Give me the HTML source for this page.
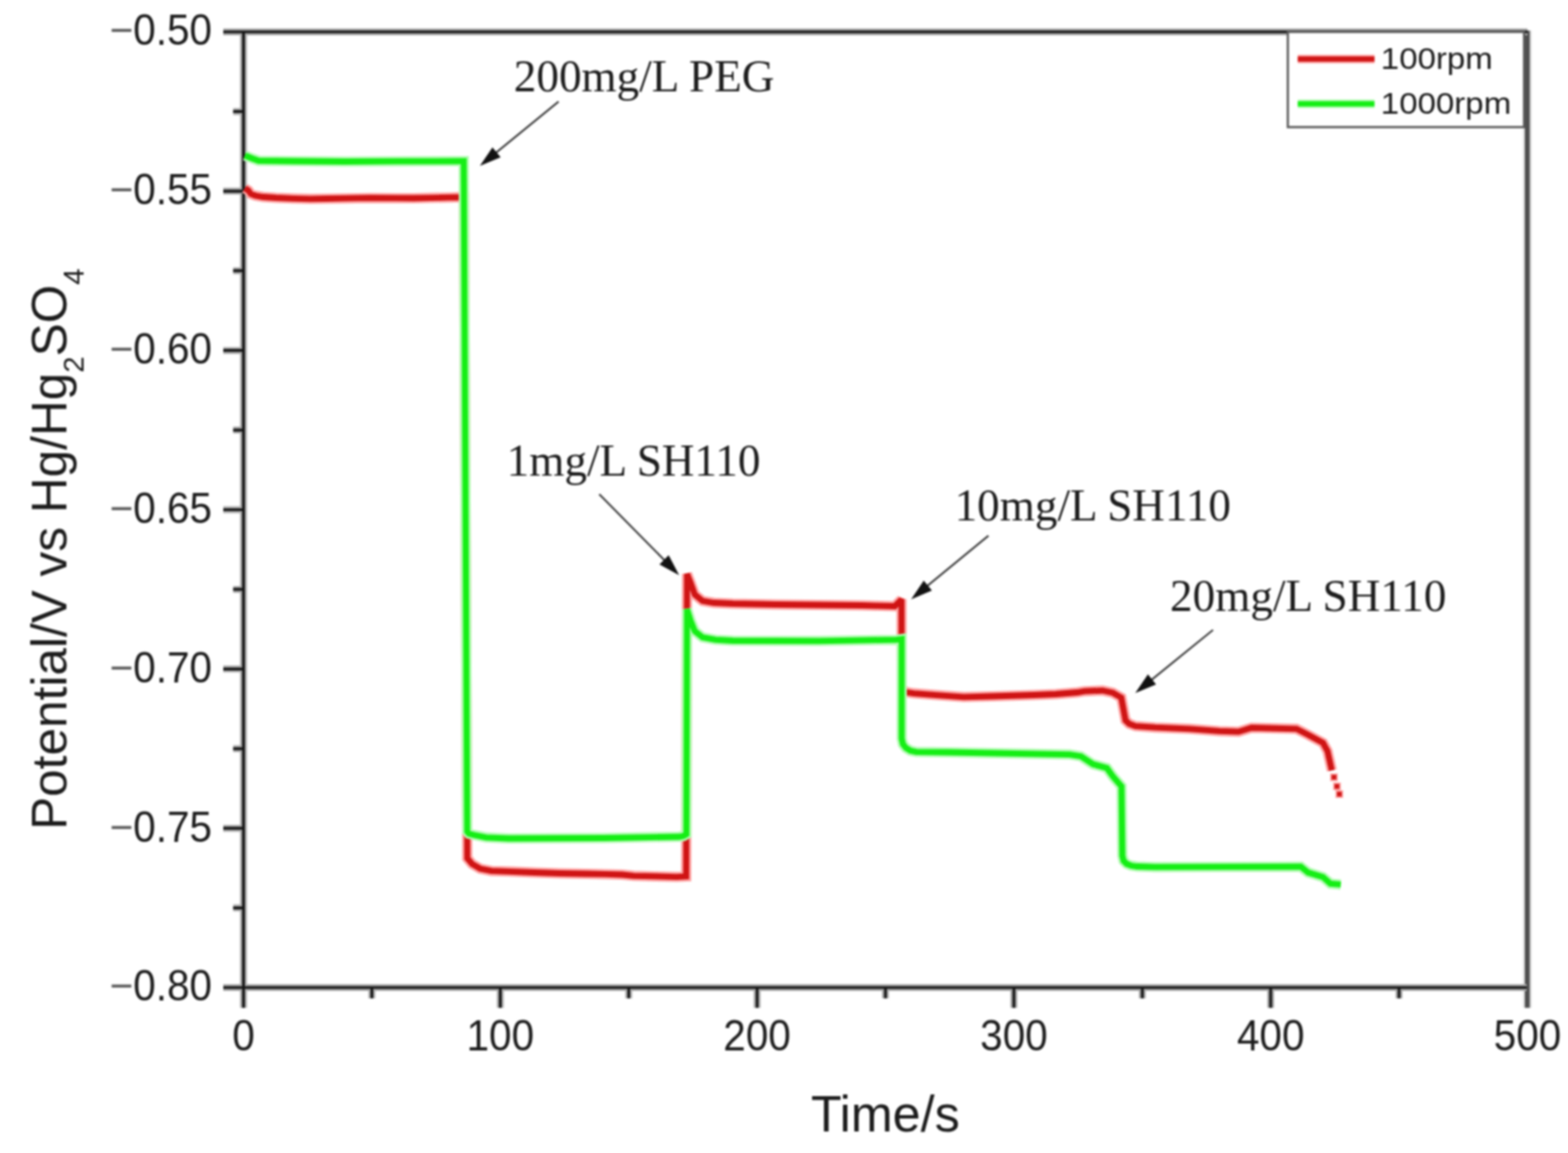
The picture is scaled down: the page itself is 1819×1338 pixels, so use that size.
<!DOCTYPE html>
<html>
<head>
<meta charset="utf-8">
<title>Potential vs Time</title>
<style>
html,body{margin:0;padding:0;background:#fff;}
body{width:1819px;height:1338px;overflow:hidden;}
#wrap{width:1819px;height:1338px;filter:blur(1px);}
svg{display:block;}
.sans{font-family:"Liberation Sans",Arial,sans-serif;}
.serif{font-family:"Liberation Serif","Times New Roman",serif;}
</style>
</head>
<body><div id="wrap">
<svg id="chart" width="1819" height="1338" viewBox="0 0 1819 1338">
<rect x="0" y="0" width="1819" height="1338" fill="#fff"/>

<!-- axes frame and ticks -->
<g fill="none" stroke-linecap="butt">
  <path d="M1771.8,35.5 V1169.5" stroke="#dcdcdc" stroke-width="10"/>
  <path d="M1771.8,35.5 V1169.5" stroke="#4e4e4e" stroke-width="5.6"/>
  <path d="M259,37 H1772 M282.5,35.5 V1147.5 M259,1146 H1771 M259,221.8 H282.5 M259,406.7 H282.5 M259,591.5 H282.5 M259,776.3 H282.5 M259,961.2 H282.5 M270.5,129.4 H282.5 M270.5,314.2 H282.5 M270.5,499.1 H282.5 M270.5,683.9 H282.5 M270.5,868.8 H282.5 M270.5,1053.6 H282.5 M580.4,1146 V1169.5 M878.3,1146 V1169.5 M1176.2,1146 V1169.5 M1474.1,1146 V1169.5 M282.5,1146 V1169.5 M431.4,1146 V1158.5 M729.4,1146 V1158.5 M1027.2,1146 V1158.5 M1325.2,1146 V1158.5 M1623.0,1146 V1158.5" stroke="#ababab" stroke-width="8"/>
  <path d="M259,37 H1772 M282.5,35.5 V1147.5 M259,1146 H1771 M259,221.8 H282.5 M259,406.7 H282.5 M259,591.5 H282.5 M259,776.3 H282.5 M259,961.2 H282.5 M270.5,129.4 H282.5 M270.5,314.2 H282.5 M270.5,499.1 H282.5 M270.5,683.9 H282.5 M270.5,868.8 H282.5 M270.5,1053.6 H282.5 M580.4,1146 V1169.5 M878.3,1146 V1169.5 M1176.2,1146 V1169.5 M1474.1,1146 V1169.5 M282.5,1146 V1169.5 M431.4,1146 V1158.5 M729.4,1146 V1158.5 M1027.2,1146 V1158.5 M1325.2,1146 V1158.5 M1623.0,1146 V1158.5" stroke="#151515" stroke-width="3.2"/>
</g>

<!-- y tick labels -->
<g class="sans" font-size="47" fill="#1c1c1c" text-anchor="end">
  <text transform="translate(246,52.3) scale(1,1.06)"><tspan fill="#5e5e5e">−</tspan>0.50</text>
  <text transform="translate(246,237.1) scale(1,1.06)"><tspan fill="#5e5e5e">−</tspan>0.55</text>
  <text transform="translate(246,422.0) scale(1,1.06)"><tspan fill="#5e5e5e">−</tspan>0.60</text>
  <text transform="translate(246,606.8) scale(1,1.06)"><tspan fill="#5e5e5e">−</tspan>0.65</text>
  <text transform="translate(246,791.6) scale(1,1.06)"><tspan fill="#5e5e5e">−</tspan>0.70</text>
  <text transform="translate(246,976.5) scale(1,1.06)"><tspan fill="#5e5e5e">−</tspan>0.75</text>
  <text transform="translate(246,1161.3) scale(1,1.06)"><tspan fill="#5e5e5e">−</tspan>0.80</text>
</g>
<!-- x tick labels -->
<g class="sans" font-size="47" fill="#1c1c1c" text-anchor="middle">
  <text transform="translate(282.5,1218.5) scale(1,1.06)">0</text>
  <text transform="translate(580.4,1218.5) scale(1,1.06)">100</text>
  <text transform="translate(878.3,1218.5) scale(1,1.06)">200</text>
  <text transform="translate(1176.2,1218.5) scale(1,1.06)">300</text>
  <text transform="translate(1474.1,1218.5) scale(1,1.06)">400</text>
  <text transform="translate(1772.0,1218.5) scale(1,1.06)">500</text>
</g>

<!-- axis titles -->
<text class="sans" font-size="58.3" fill="#1c1c1c" x="1027" y="1312.7" text-anchor="middle">Time/s</text>
<text class="sans" font-size="57.5" fill="#1c1c1c" transform="translate(76.5,963) rotate(-90)">Potential/V vs Hg/Hg<tspan font-size="34" dy="20.5">2</tspan><tspan dy="-20.5">SO</tspan><tspan font-size="34" dy="20.5">4</tspan></text>

<!-- data curves -->
<g fill="none" stroke-linejoin="miter" stroke-miterlimit="2" stroke-linecap="butt">
  <path d="M284,218.5 L288,221 L291,225 L296,227 L305,228.5 L320,229.5 L340,230.3 L360,230.8 L380,230.5 L400,230.2 L430,229.7 L460,229.9 L480,230 L500,229.6 L520,229.2 L534,228.8 L538.2,229 L542.1,996 L547.7,1002.6 L557,1008 L570,1010.7 L590,1011.3 L620,1012.5 L650,1013.5 L680,1014 L702,1014.4 L722,1015 L735,1016.3 L760,1016.9 L785,1017.6 L796,1017 L797,666 L801,676 L806,690 L815,697.4 L828,699.5 L850,700.5 L900,701.5 L950,702 L1000,702.5 L1038,703.5 L1045.8,695.6 L1046,798 L1050,803 L1060,804.6 L1086,806.6 L1118,808.8 L1150,808 L1200,806.5 L1225,805.5 L1250,803.5 L1258,802.2 L1279,801.3 L1291,804 L1300.8,809.6 L1305.7,836 L1310,840 L1317.3,842.6 L1340,844.2 L1380,845.8 L1414.4,848.4 L1436.7,849.2 L1452,844.5 L1504,845.8 L1517.6,852.7 L1534.8,862.1 L1540,871.6 L1545,894" stroke="#ffa4a4" stroke-width="12.0"/>
  <path d="M284,218.5 L288,221 L291,225 L296,227 L305,228.5 L320,229.5 L340,230.3 L360,230.8 L380,230.5 L400,230.2 L430,229.7 L460,229.9 L480,230 L500,229.6 L520,229.2 L534,228.8 L538.2,229 L542.1,996 L547.7,1002.6 L557,1008 L570,1010.7 L590,1011.3 L620,1012.5 L650,1013.5 L680,1014 L702,1014.4 L722,1015 L735,1016.3 L760,1016.9 L785,1017.6 L796,1017 L797,666 L801,676 L806,690 L815,697.4 L828,699.5 L850,700.5 L900,701.5 L950,702 L1000,702.5 L1038,703.5 L1045.8,695.6 L1046,798 L1050,803 L1060,804.6 L1086,806.6 L1118,808.8 L1150,808 L1200,806.5 L1225,805.5 L1250,803.5 L1258,802.2 L1279,801.3 L1291,804 L1300.8,809.6 L1305.7,836 L1310,840 L1317.3,842.6 L1340,844.2 L1380,845.8 L1414.4,848.4 L1436.7,849.2 L1452,844.5 L1504,845.8 L1517.6,852.7 L1534.8,862.1 L1540,871.6 L1545,894" stroke="#cf1414" stroke-width="6.8"/>
</g>
<g stroke="none">
  <rect x="1543.0" y="897.5" width="9" height="9" fill="#ffa4a4"/><rect x="1546.5" y="908.0" width="9" height="9" fill="#ffa4a4"/><rect x="1549.2" y="917.0" width="9" height="9" fill="#ffa4a4"/>
  <rect x="1544.8" y="899.2" width="5.5" height="5.5" fill="#cf1414"/><rect x="1548.2" y="909.8" width="5.5" height="5.5" fill="#cf1414"/><rect x="1551.0" y="918.8" width="5.5" height="5.5" fill="#cf1414"/>
</g>
<g fill="none" stroke-linejoin="miter" stroke-miterlimit="2" stroke-linecap="butt">
  <path d="M284,180.5 L288,182 L293,184 L300,186.5 L340,187 L400,187.5 L460,187.2 L538,187 L542,965 L544,967.5 L550,969 L564,971.8 L590,973 L700,972.5 L788,971 L793,970 L796.3,968 L797,707 L801,720 L806,732.4 L815,739.6 L830,742.4 L850,743.5 L950,743.8 L1040,742.4 L1046,741.6 L1046,857 L1047.5,863.5 L1051,868 L1056,871 L1063,872.6 L1100,873 L1241,875.6 L1254,877.7 L1268,886.9 L1284,891.2 L1291,901 L1301,912.5 L1302,993 L1303.5,999 L1307,1002.5 L1312,1004.5 L1319,1005.5 L1340,1006.2 L1509,1005.7 L1517.6,1012.6 L1534.8,1017.8 L1543.4,1025.5 L1555.4,1026.4" stroke="#b2fbb2" stroke-width="12.0"/>
  <path d="M284,180.5 L288,182 L293,184 L300,186.5 L340,187 L400,187.5 L460,187.2 L538,187 L542,965 L544,967.5 L550,969 L564,971.8 L590,973 L700,972.5 L788,971 L793,970 L796.3,968 L797,707 L801,720 L806,732.4 L815,739.6 L830,742.4 L850,743.5 L950,743.8 L1040,742.4 L1046,741.6 L1046,857 L1047.5,863.5 L1051,868 L1056,871 L1063,872.6 L1100,873 L1241,875.6 L1254,877.7 L1268,886.9 L1284,891.2 L1291,901 L1301,912.5 L1302,993 L1303.5,999 L1307,1002.5 L1312,1004.5 L1319,1005.5 L1340,1006.2 L1509,1005.7 L1517.6,1012.6 L1534.8,1017.8 L1543.4,1025.5 L1555.4,1026.4" stroke="#15ee15" stroke-width="6.8"/>
</g>

<!-- legend -->
<rect x="1494" y="37" width="274" height="110.5" fill="#fff" stroke="#5a5a5a" stroke-width="2.6"/>
<line x1="1505.5" y1="68.6" x2="1594.5" y2="68.6" stroke="#ffa4a4" stroke-width="10"/>
<line x1="1505.5" y1="68.6" x2="1594.5" y2="68.6" stroke="#cf1414" stroke-width="6"/>
<line x1="1505.5" y1="120.5" x2="1594.5" y2="120.5" stroke="#b2fbb2" stroke-width="10"/>
<line x1="1505.5" y1="120.5" x2="1594.5" y2="120.5" stroke="#15ee15" stroke-width="6"/>
<g class="sans" font-size="36" fill="#1c1c1c" transform="translate(1604.4,0) scale(1.065,1) translate(-1604.4,0)">
  <text x="1602" y="80.5">100rpm</text>
  <text x="1602" y="132.5">1000rpm</text>
</g>

<!-- annotations -->
<g class="serif" font-size="52.4" fill="#1c1c1c">
  <text x="596" y="106.4">200mg/L PEG</text>
  <text x="587.8" y="551.7">1mg/L SH110</text>
  <text x="1107.4" y="604.1">10mg/L SH110</text>
  <text x="1357.3" y="708.5">20mg/L SH110</text>
</g>
<g stroke="#3a3a3a" stroke-width="2.2">
  <line x1="648" y1="117.9" x2="573.7" y2="178.7"/>
  <line x1="695.2" y1="573.5" x2="772.4" y2="651.7"/>
  <line x1="1146.7" y1="621.7" x2="1074.0" y2="681.4"/>
  <line x1="1407.2" y1="731" x2="1334.1" y2="790.3"/>
</g>
<g fill="#111" stroke="none">
  <polygon points="556.7,192.6 580.8,182.6 571.3,171.0"/>
  <polygon points="787.9,667.4 775.7,644.3 765.0,654.9"/>
  <polygon points="1057,695.4 1081.1,685.3 1071.6,673.7"/>
  <polygon points="1317,804.2 1341.1,794.3 1331.7,782.6"/>
</g>

</svg>
</div></body>
</html>
